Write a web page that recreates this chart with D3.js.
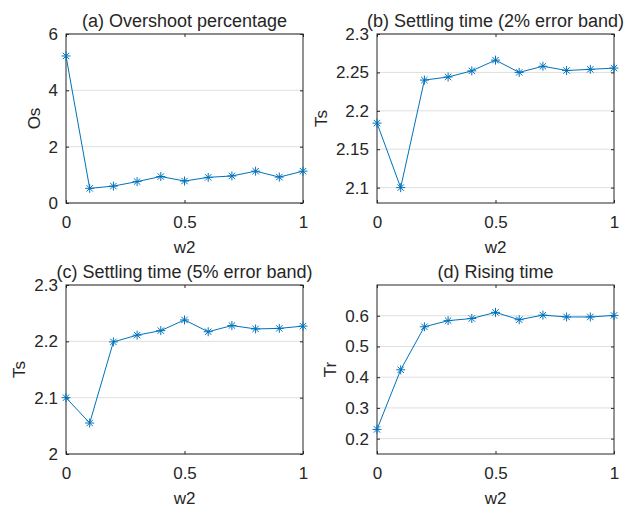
<!DOCTYPE html>
<html>
<head>
<meta charset="utf-8">
<script src="https://cdn.jsdelivr.net/npm/d3@7"></script>
<style>
  body { margin: 0; background: #fff; }
  text { font-family: "Liberation Sans", Arial, sans-serif; fill: #262626; }
</style>
</head>
<body>
<script>
// w2 weights on the x axis
var w2 = [0, 0.1, 0.2, 0.3, 0.4, 0.5, 0.6, 0.7, 0.8, 0.9, 1.0];

// series
var overshoot = [5.22, 0.52, 0.60, 0.76, 0.94, 0.78, 0.91, 0.96, 1.13, 0.92, 1.13];
var settle2 = [2.184, 2.100, 2.240, 2.244, 2.252, 2.266, 2.250, 2.258, 2.2525, 2.254, 2.2556];
var settle5 = [2.100, 2.055, 2.199, 2.211, 2.219, 2.238, 2.217, 2.228, 2.222, 2.223, 2.227];
var riseTime = [0.230, 0.424, 0.564, 0.584, 0.591, 0.611, 0.587, 0.602, 0.596, 0.596, 0.601];

// tick labels
var xTicks = [0, 0.5, 1];
var osTicks = [0, 2, 4, 6];
var ts2Ticks = [2.1, 2.15, 2.2, 2.25, 2.3];
var ts5Ticks = [2, 2.1, 2.2, 2.3];
var trTicks = [0.2, 0.3, 0.4, 0.5, 0.6];

var panels = [
  {title: "(a) Overshoot percentage", ylab: "Os", values: overshoot, domain: [0, 6], ticks: osTicks,
   box: [66, 303, 34, 203]},
  {title: "(b) Settling time (2% error band)", ylab: "Ts", values: settle2, domain: [2.08, 2.3], ticks: ts2Ticks,
   box: [377, 614, 34, 203]},
  {title: "(c) Settling time (5% error band)", ylab: "Ts", values: settle5, domain: [2, 2.3], ticks: ts5Ticks,
   box: [66, 303, 285, 454]},
  {title: "(d) Rising time", ylab: "Tr", values: riseTime, domain: [0.15, 0.7], ticks: trTicks,
   box: [377, 614, 285, 454]}
];

var blue = "#0072BD";
var axisCol = "#262626";

var svg = d3.select("body").append("svg")
    .attr("width", 625).attr("height", 508);

panels.forEach(function(p) {
  var x0 = p.box[0], x1 = p.box[1], y0 = p.box[2], y1 = p.box[3];
  var x = d3.scaleLinear().domain([0, 1]).range([x0, x1]);
  var y = d3.scaleLinear().domain(p.domain).range([y1, y0]);
  var g = svg.append("g");

  // horizontal grid
  g.selectAll("line.grid").data(p.ticks).enter().append("line")
    .attr("x1", x0).attr("x2", x1)
    .attr("y1", function(d) { return y(d); }).attr("y2", function(d) { return y(d); })
    .attr("stroke", "#dfdfdf").attr("stroke-width", 1);

  // axes (ticks inside, mirrored)
  var tl = 3;
  g.append("g").attr("transform", "translate(0," + y1 + ")")
    .call(d3.axisBottom(x).tickValues(xTicks).tickSize(-tl).tickPadding(13).tickFormat(d3.format("")));
  g.append("g").attr("transform", "translate(0," + y0 + ")")
    .call(d3.axisTop(x).tickValues(xTicks).tickSize(-tl).tickFormat(""));
  var yl = g.append("g").attr("transform", "translate(" + x0 + ",0)")
    .call(d3.axisLeft(y).tickValues(p.ticks).tickSize(-tl).tickPadding(8).tickFormat(d3.format("")));
  g.append("g").attr("transform", "translate(" + x1 + ",0)")
    .call(d3.axisRight(y).tickValues(p.ticks).tickSize(-tl).tickFormat(""));

  g.selectAll(".domain").remove();
  g.selectAll(".tick line").attr("stroke", axisCol).attr("stroke-width", 1);
  g.selectAll(".tick text").style("font-family", "'Liberation Sans', Arial, sans-serif")
    .style("font-size", "17px").attr("fill", axisCol);

  g.append("rect").attr("x", x0).attr("y", y0)
    .attr("width", x1 - x0).attr("height", y1 - y0)
    .attr("fill", "none").attr("stroke", axisCol).attr("stroke-width", 1);

  // data line
  var line = d3.line()
    .x(function(d, i) { return x(w2[i]); })
    .y(function(d) { return y(d); });
  g.append("path").datum(p.values)
    .attr("d", line).attr("fill", "none").attr("stroke", blue).attr("stroke-width", 1);

  // asterisk markers
  var m = g.selectAll("g.mk").data(p.values).enter().append("g")
    .attr("transform", function(d, i) { return "translate(" + x(w2[i]) + "," + y(d) + ")"; });
  var a = 4.5, b = 3.2;
  [[-a, 0, a, 0], [0, -a, 0, a], [-b, -b, b, b], [-b, b, b, -b]].forEach(function(s) {
    m.append("line").attr("x1", s[0]).attr("y1", s[1]).attr("x2", s[2]).attr("y2", s[3])
      .attr("stroke", blue).attr("stroke-width", 1);
  });

  // title, kept inside the page
  var t = g.append("text").attr("x", (x0 + x1) / 2).attr("y", y0 - 7)
    .attr("text-anchor", "middle").style("font-size", "18px").text(p.title);
  var tb = t.node().getBBox();
  if (tb.x + tb.width > 624) {
    t.attr("x", (x0 + x1) / 2 - (tb.x + tb.width - 624));
  }

  // x label
  g.append("text").attr("x", (x0 + x1) / 2).attr("y", y1 + 50)
    .attr("text-anchor", "middle").style("font-size", "17px").text("w2");

  // y label, placed left of the widest tick label
  var left = d3.min(yl.selectAll(".tick text").nodes(), function(n) { return n.getBBox().x; }) + x0;
  var lx = left - 9;
  g.append("text").attr("transform", "translate(" + lx + "," + ((y0 + y1) / 2) + ") rotate(-90)")
    .attr("text-anchor", "middle").style("font-size", "17px").text(p.ylab);
});
</script>
</body>
</html>
